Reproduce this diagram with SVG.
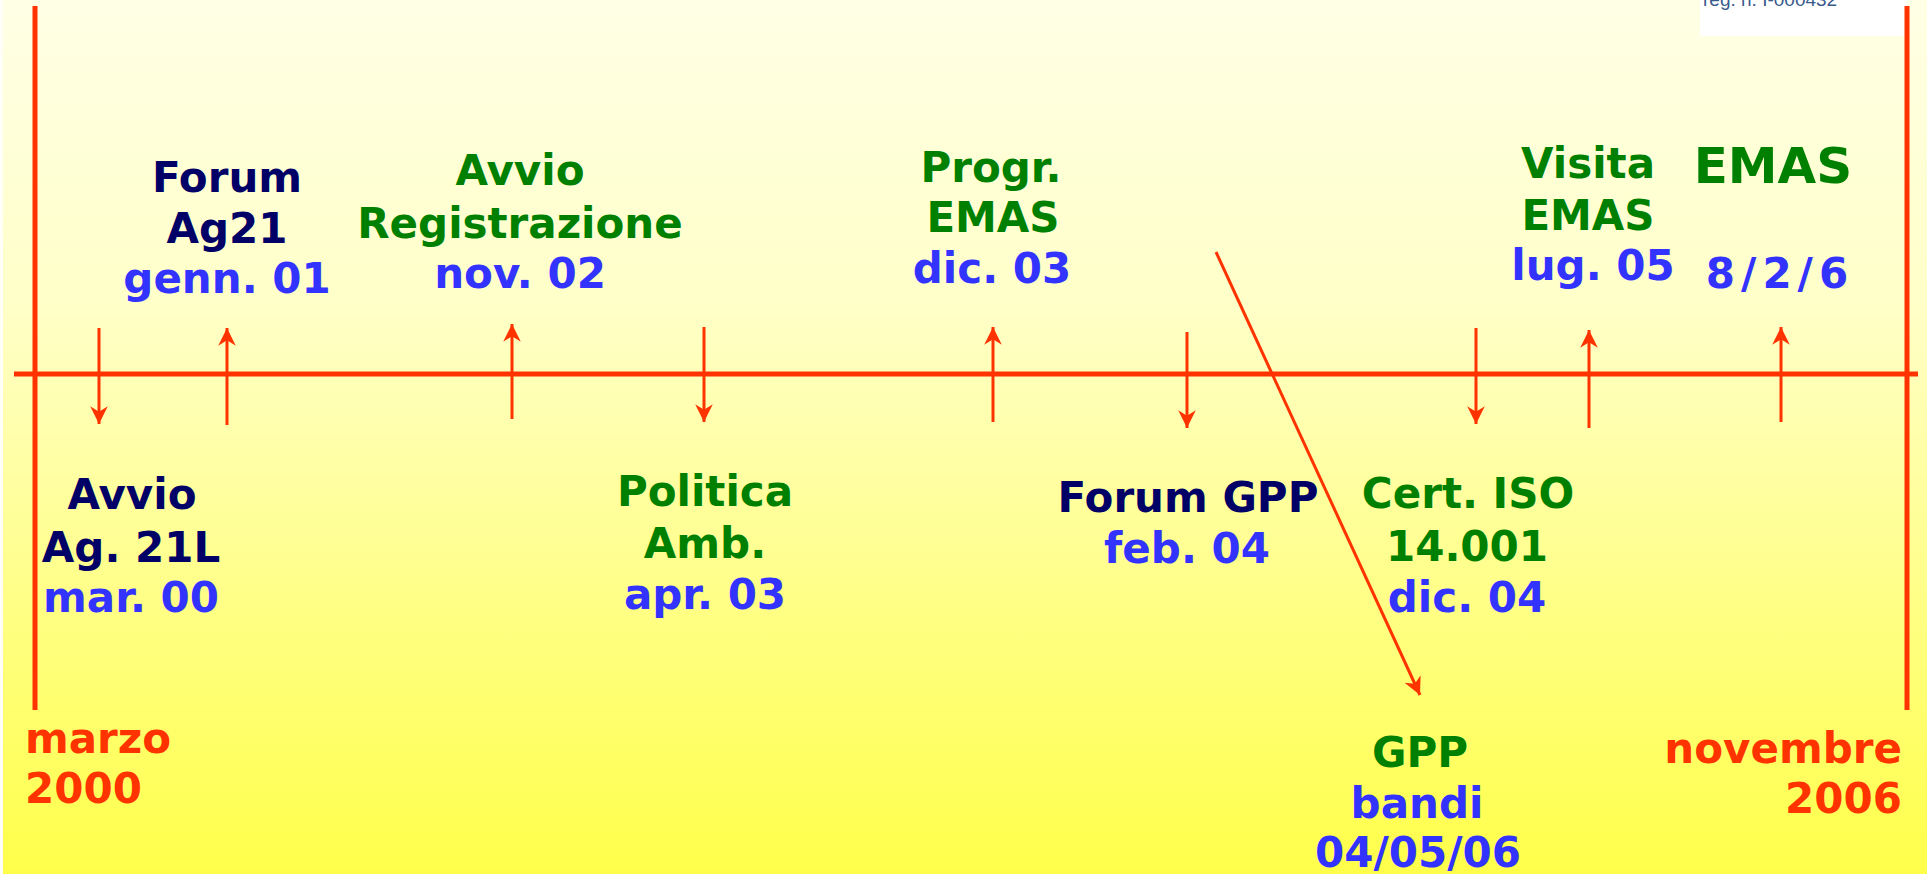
<svg xmlns="http://www.w3.org/2000/svg" width="1927" height="874" viewBox="0 0 1927 874">
<defs>
<linearGradient id="bg" x1="0" y1="0" x2="0" y2="1">
<stop offset="0" stop-color="#FFFFE6"/>
<stop offset="0.35" stop-color="#FFFFC8"/>
<stop offset="1" stop-color="#FFFF4A"/>
</linearGradient>
<marker id="ah" markerUnits="userSpaceOnUse" markerWidth="20" markerHeight="20" viewBox="-16 -8 17 16" refX="0" refY="0" orient="auto">
<path d="M0,0 L-15,-7.5 L-10.5,0 L-15,7.5 Z" fill="#FF3300"/>
</marker>
<style>
text{font-family:"DejaVu Sans","Verdana",sans-serif;font-weight:bold;font-size:42px;text-anchor:middle}
.nv{fill:#000066}
.gr{fill:#008000}
.bl{fill:#3333FF}
.rd{fill:#FF3300}
.ax{stroke:#FF3300;stroke-width:5;fill:none}
.ar{stroke:#FF3300;stroke-width:3;fill:none;marker-end:url(#ah)}
</style>
</defs>
<rect x="0" y="0" width="1927" height="874" fill="url(#bg)"/>
<rect x="0" y="0" width="3" height="874" fill="#FFFFF8"/>
<g id="logo">
<rect x="1700" y="0" width="207" height="36" fill="#FFFFFF"/>
<text x="1703" y="6" style="font-family:'Liberation Sans',Arial,sans-serif;font-size:19px;font-weight:normal;text-anchor:start;fill:#3A5A8C">reg. n. I-000432</text>
</g>
<g id="connectors">
<line class="ax" x1="14" y1="374" x2="1918" y2="374"/>
<line class="ax" x1="35" y1="6" x2="35" y2="710"/>
<line class="ax" x1="1907" y1="6" x2="1907" y2="710"/>
<line class="ar" x1="99" y1="328" x2="99" y2="424"/>
<line class="ar" x1="227" y1="425" x2="227" y2="328"/>
<line class="ar" x1="512" y1="419" x2="512" y2="324"/>
<line class="ar" x1="704" y1="327" x2="704" y2="422"/>
<line class="ar" x1="993" y1="422" x2="993" y2="327"/>
<line class="ar" x1="1187" y1="332" x2="1187" y2="428"/>
<line class="ar" x1="1476" y1="328" x2="1476" y2="424"/>
<line class="ar" x1="1589" y1="428" x2="1589" y2="330"/>
<line class="ar" x1="1781" y1="422" x2="1781" y2="327"/>
<line class="ar" x1="1216" y1="252" x2="1420" y2="695"/>
</g>
<g id="forum-ag21">
<text class="nv" x="227" y="192">Forum</text>
<text class="nv" x="227" y="243">Ag21</text>
<text class="bl" x="227" y="293">genn. 01</text>
</g>
<g id="avvio-registrazione">
<text class="gr" x="520" y="185">Avvio</text>
<text class="gr" x="520" y="238">Registrazione</text>
<text class="bl" x="520" y="288">nov. 02</text>
</g>
<g id="progr-emas">
<text class="gr" x="991" y="182">Progr.</text>
<text class="gr" x="993" y="232">EMAS</text>
<text class="bl" x="992" y="283">dic. 03</text>
</g>
<g id="visita-emas">
<text class="gr" x="1588" y="178">Visita</text>
<text class="gr" x="1588" y="230">EMAS</text>
<text class="bl" x="1593" y="280">lug. 05</text>
</g>
<g id="emas">
<text class="gr" x="1773" y="183" style="font-size:50px">EMAS</text>
<text class="bl" x="1780" y="288" style="letter-spacing:6px">8/2/6</text>
</g>
<g id="avvio-ag21l">
<text class="nv" x="132" y="509">Avvio</text>
<text class="nv" x="131" y="562">Ag. 21L</text>
<text class="bl" x="131" y="612">mar. 00</text>
</g>
<g id="politica-amb">
<text class="gr" x="705" y="506">Politica</text>
<text class="gr" x="705" y="558">Amb.</text>
<text class="bl" x="705" y="609">apr. 03</text>
</g>
<g id="forum-gpp">
<text class="nv" x="1188" y="512">Forum GPP</text>
<text class="bl" x="1187" y="563">feb. 04</text>
</g>
<g id="cert-iso">
<text class="gr" x="1468" y="508">Cert. ISO</text>
<text class="gr" x="1467" y="561">14.001</text>
<text class="bl" x="1467" y="612">dic. 04</text>
</g>
<g id="gpp-bandi">
<text class="gr" x="1420" y="767">GPP</text>
<text class="bl" x="1417" y="818">bandi</text>
<text class="bl" x="1418" y="867">04/05/06</text>
</g>
<g id="start">
<text class="rd" x="25" y="753" style="text-anchor:start">marzo</text>
<text class="rd" x="25" y="803" style="text-anchor:start">2000</text>
</g>
<g id="end">
<text class="rd" x="1902" y="763" style="text-anchor:end">novembre</text>
<text class="rd" x="1902" y="813" style="text-anchor:end">2006</text>
</g>
</svg>
